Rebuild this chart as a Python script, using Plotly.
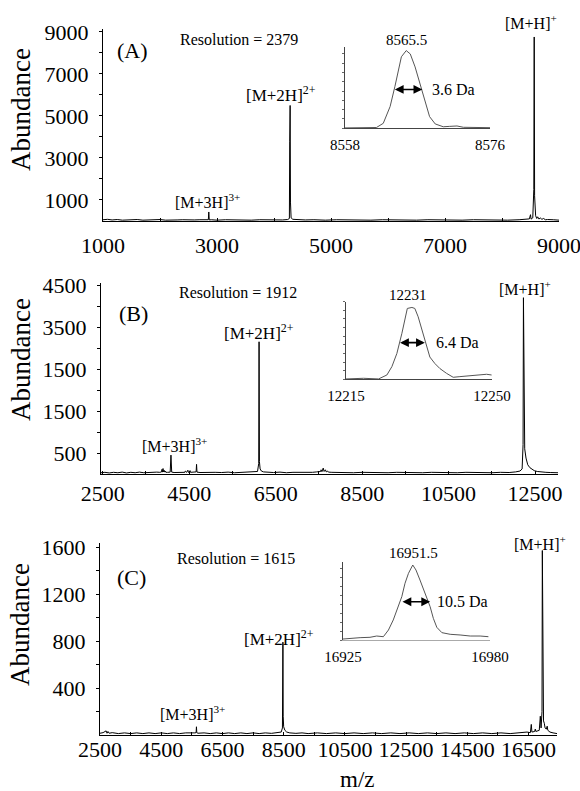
import plotly.graph_objects as go

# ---------------- data ----------------
# Panel A main spectrum (m/z, abundance)
mz_A = [1000, 1080, 1160, 1250, 1340, 1420, 1510, 1600, 1700, 1800, 1900, 2000, 2100, 2200, 2300, 2400,
        2500, 2600, 2700, 2800, 2848, 2856, 2864, 2900, 3000, 3150, 3300, 3450, 3600, 3750, 3900, 4050,
        4150, 4240, 4270, 4276, 4283, 4289, 4300, 4330, 4400, 4550, 4700, 4900, 5100, 5300, 5500, 5700,
        5900, 6100, 6300, 6500, 6700, 6900, 7100, 7300, 7500, 7700, 7900, 8100, 8300, 8400, 8480, 8500,
        8510, 8540, 8558, 8565, 8572, 8590, 8610, 8625, 8650, 8670, 8700, 8730, 8760, 8800, 8850, 8900, 9000]
ab_A = [60, 80, 50, 70, 40, 60, 50, 70, 40, 60, 50, 70, 40, 60, 50, 60,
        40, 50, 60, 40, 60, 430, 50, 60, 40, 60, 50, 60, 40, 60, 50, 60,
        50, 70, 120, 3800, 5500, 900, 150, 80, 60, 50, 60, 40, 60, 50, 60, 40,
        60, 50, 60, 40, 60, 50, 60, 40, 60, 50, 60, 40, 60, 80, 100, 300,
        90, 150, 1500, 8760, 1200, 250, 120, 200, 90, 150, 80, 120, 60, 70, 50, 60, 40]

# Panel B main spectrum
mz_B = [2460, 2550, 2650, 2750, 2850, 2950, 3050, 3150, 3250, 3350, 3450, 3550, 3650, 3750, 3820, 3860,
        3870, 3880, 3895, 3905, 3920, 3930, 3950, 3960, 4000, 4060, 4078, 4095, 4150, 4250, 4350, 4400,
        4410, 4440, 4470, 4480, 4500, 4520, 4530, 4600, 4660, 4670, 4680, 4750, 4850, 4950, 5100, 5250,
        5400, 5550, 5700, 5850, 6000, 6080, 6108, 6116, 6124, 6140, 6170, 6220, 6300, 6450, 6600, 6750,
        6900, 7050, 7200, 7350, 7450, 7540, 7550, 7570, 7600, 7620, 7650, 7670, 7700, 7720, 7800, 7950,
        8100, 8300, 8500, 8700, 8900, 9100, 9300, 9500, 9700, 9900, 10100, 10300, 10500, 10700, 10900,
        11100, 11300, 11500, 11700, 11900, 12050, 12150, 12200, 12222, 12231, 12240, 12260, 12290, 12330,
        12380, 12430, 12480, 12550, 12650, 12750, 12850, 12950, 13030]
ab_B = [30, 40, 25, 40, 30, 45, 25, 40, 30, 45, 30, 40, 35, 45, 40, 50,
        110, 45, 130, 50, 90, 45, 70, 40, 40, 45, 450, 45, 35, 40, 35, 40,
        70, 40, 90, 40, 40, 80, 40, 45, 50, 230, 45, 35, 40, 30, 40, 35,
        45, 30, 40, 35, 45, 60, 250, 3150, 300, 120, 70, 50, 40, 35, 45, 30,
        40, 35, 45, 40, 50, 60, 100, 55, 140, 60, 100, 50, 70, 45, 40, 35,
        45, 30, 40, 35, 45, 30, 40, 35, 45, 30, 40, 35, 45, 30, 40,
        35, 45, 30, 40, 35, 50, 70, 120, 700, 4200, 1500, 600, 380, 220,
        150, 110, 80, 60, 45, 40, 35, 40, 30]

# Panel C main spectrum
mz_C = [2500, 2600, 2700, 2730, 2760, 2800, 2900, 3100, 3300, 3500, 3700, 3900, 4100, 4300, 4500, 4700,
        4900, 5100, 5300, 5500, 5600, 5640, 5651, 5662, 5700, 5900, 6100, 6300, 6500, 6700, 6900, 7100,
        7300, 7500, 7700, 7900, 8100, 8300, 8420, 8460, 8476, 8485, 8500, 8540, 8600, 8700, 8900, 9100,
        9300, 9600, 9900, 10200, 10500, 10800, 11100, 11400, 11700, 12000, 12300, 12600, 12900, 13200,
        13500, 13800, 14100, 14400, 14700, 15000, 15300, 15600, 15900, 16200, 16400, 16450, 16560, 16590,
        16610, 16700, 16720, 16740, 16850, 16885, 16910, 16940, 16951, 16965, 16990, 17015, 17040, 17080,
        17110, 17130, 17200, 17300, 17430]
ab_C = [15, 20, 35, 15, 30, 15, 20, 12, 18, 12, 18, 12, 18, 12, 18, 12,
        18, 12, 18, 14, 18, 20, 70, 20, 15, 18, 12, 18, 12, 18, 12, 18,
        12, 18, 12, 18, 14, 20, 25, 60, 790, 160, 70, 40, 25, 18, 14, 18,
        12, 18, 12, 18, 12, 18, 12, 18, 12, 18, 12, 18, 12, 18,
        12, 18, 12, 18, 12, 18, 12, 18, 12, 20, 22, 25, 20, 90,
        25, 30, 50, 30, 40, 160, 60, 200, 1570, 300, 120, 100, 60, 50,
        75, 40, 25, 18, 12]

# Insets (relative intensity, %)
mz_iA = [8558.0, 8559.5, 8561.0, 8561.9, 8562.75, 8563.6, 8564.2, 8564.6, 8565.0, 8565.6, 8566.1, 8566.7,
         8567.3, 8567.9, 8568.5, 8569.2, 8570.2, 8571.0, 8571.9, 8572.7, 8574.0, 8575.2, 8576.0]
ab_iA = [0.5, 0.8, 0.6, 1.0, 6.4, 28, 54, 75, 92, 100, 95.7, 79,
         58, 34, 15, 5.6, 2.0, 2.5, 3.0, 1.3, 1.0, 1.3, 0.8]

mz_iB = [12215.0, 12219.2, 12222.8, 12224.8, 12226.0, 12227.2, 12228.4, 12229.1, 12229.7, 12230.8, 12231.5,
         12232.3, 12233.1, 12233.9, 12235.1, 12236.3, 12237.5, 12239.1, 12240.7, 12242.3, 12244.7, 12247.1,
         12248.7, 12249.9]
ab_iB = [0.5, 1.4, 0.5, 6, 17.6, 36, 64, 85, 98.6, 100, 98.6,
         87, 71, 52, 31, 22, 15, 8.3, 2.8, 3.7, 4.6, 5.6,
         7.0, 6.0]

mz_iC = [16925.0, 16927.6, 16931.4, 16935.1, 16937.6, 16940.1, 16942.0, 16943.8, 16945.7, 16947.0, 16948.2,
         16949.5, 16951.1, 16952.3, 16953.8, 16955.7, 16957.6, 16958.8, 16960.1, 16962.0, 16965.1, 16968.8,
         16972.6, 16976.3, 16979.4]
ab_iC = [1.3, 2.2, 3.1, 3.6, 5.3, 4.4, 13.3, 26.7, 44.4, 57.8, 75.6,
         88.9, 100, 93.3, 80, 62.2, 44.4, 28.9, 16.9, 9.8, 7.6, 6.7,
         5.3, 5.3, 4.4]

# tick values / labels (labelled major ticks + unlabelled minor ticks)
xticks_A = [1000, 3000, 5000, 7000, 9000]
xlabels_A = ["1000", "3000", "5000", "7000", "9000"]
xminor_A = [2000, 4000, 6000, 8000]
yticks_A = [1000, 3000, 5000, 7000, 9000]
ylabels_A = ["1000", "3000", "5000", "7000", "9000"]
yminor_A = [2000, 4000, 6000, 8000]

xticks_B = [2500, 4500, 6500, 8500, 10500, 12500]
xlabels_B = ["2500", "4500", "6500", "8500", "10500", "12500"]
xminor_B = [3500, 5500, 7500, 9500, 11500]
yticks_B = [500, 1500, 2500, 3500, 4500]
ylabels_B = ["500", "1500", "1500", "3500", "4500"]
yminor_B = [1000, 2000, 3000, 4000]

xticks_C = [2500, 4500, 6500, 8500, 10500, 12500, 14500, 16500]
xlabels_C = ["2500", "4500", "6500", "8500", "10500", "12500", "14500", "16500"]
xminor_C = [3500, 5500, 7500, 9500, 11500, 13500, 15500]
yticks_C = [400, 800, 1200, 1600]
ylabels_C = ["400", "800", "1200", "1600"]
yminor_C = [200, 600, 1000, 1400]

inset_ticks_A = [8558, 8576]
inset_ticks_B = [12215, 12250]
inset_ticks_C = [16925, 16980]

peak_top_A, peak_top_B, peak_top_C = "8565.5", "12231", "16951.5"
fwhm_A, fwhm_B, fwhm_C = "3.6 Da", "6.4 Da", "10.5 Da"
res_A, res_B, res_C = "Resolution = 2379", "Resolution = 1912", "Resolution = 1615"

# ---------------- figure ----------------
W, H = 580, 791
FONT = "Liberation Serif, Times New Roman, Times, serif"

def px(x):
    return x / W

def py(y):
    return 1 - y / H

fig = go.Figure()
line_main = dict(color="black", width=1)
line_inset = dict(color="#555555", width=1)
fig.add_trace(go.Scatter(x=mz_A, y=ab_A, mode="lines", line=line_main, xaxis="x", yaxis="y"))
fig.add_trace(go.Scatter(x=mz_B, y=ab_B, mode="lines", line=line_main, xaxis="x2", yaxis="y2"))
fig.add_trace(go.Scatter(x=mz_C, y=ab_C, mode="lines", line=line_main, xaxis="x3", yaxis="y3"))
fig.add_trace(go.Scatter(x=mz_iA, y=ab_iA, mode="lines", line=line_inset, xaxis="x4", yaxis="y4"))
fig.add_trace(go.Scatter(x=mz_iB, y=ab_iB, mode="lines", line=line_inset, xaxis="x5", yaxis="y5"))
fig.add_trace(go.Scatter(x=mz_iC, y=ab_iC, mode="lines", line=line_inset, xaxis="x6", yaxis="y6"))

def main_x(dom, rng, anchor, tv, tt, mv, standoff):
    return dict(domain=dom, range=rng, anchor=anchor, showline=True, linecolor="black", linewidth=1,
                ticks="inside", ticklen=3, tickcolor="black", tickvals=tv, ticktext=tt, tickangle=0,
                minor=dict(tickvals=mv, ticks="inside", ticklen=3, tickcolor="black", showgrid=False),
                tickfont=dict(size=22, family=FONT, color="black"), showgrid=False, zeroline=False,
                ticklabelstandoff=standoff, automargin=False, ticklabeloverflow="allow")

def main_y(dom, rng, anchor, tv, tt, mv):
    return dict(domain=dom, range=rng, anchor=anchor, showline=True, linecolor="black", linewidth=1,
                ticks="outside", ticklen=3, tickcolor="black", tickvals=tv, ticktext=tt,
                minor=dict(tickvals=mv, ticks="outside", ticklen=3, tickcolor="black", showgrid=False),
                tickfont=dict(size=22, family=FONT, color="black"), showgrid=False, zeroline=False,
                ticklabelstandoff=6, automargin=False, ticklabeloverflow="allow")

def inset_x(dom, rng, anchor, tv, color):
    return dict(domain=dom, range=rng, anchor=anchor, showline=True, linecolor=color, linewidth=1,
                ticks="", tickvals=tv, ticktext=[str(v) for v in tv], tickangle=0,
                tickfont=dict(size=15, family=FONT, color="black"), showgrid=False, zeroline=False,
                ticklabelstandoff=3, automargin=False, ticklabeloverflow="allow")

def inset_y(dom, rng, anchor):
    return dict(domain=dom, range=rng, anchor=anchor, showline=True, linecolor="#444444", linewidth=1,
                ticks="outside", ticklen=2, tickcolor="#666666", dtick=12, showticklabels=False,
                showgrid=False, zeroline=False, automargin=False)

fig.update_layout(
    width=W, height=H, margin=dict(l=0, r=0, t=0, b=0, pad=0), autosize=False,
    paper_bgcolor="white", plot_bgcolor="rgba(0,0,0,0)", showlegend=False, hovermode=False,
    font=dict(family=FONT, color="black"),
    xaxis=main_x([px(103), px(559)], [1000, 9000], "y", xticks_A, xlabels_A, xminor_A, 5),
    yaxis=main_y([py(221), py(29)], [0, 9140], "x", yticks_A, ylabels_A, yminor_A),
    xaxis2=main_x([px(101), px(558)], [2460, 13030], "y2", xticks_B, xlabels_B, xminor_B, 0),
    yaxis2=main_y([py(474), py(283)], [0, 4550], "x2", yticks_B, ylabels_B, yminor_B),
    xaxis3=main_x([px(100), px(557)], [2500, 17430], "y3", xticks_C, xlabels_C, xminor_C, -5),
    yaxis3=main_y([py(735), py(543)], [0, 1634], "x3", yticks_C, ylabels_C, yminor_C),
    xaxis4=inset_x([px(345), px(490)], [8558, 8576], "y4", inset_ticks_A, "#444444"),
    yaxis4=inset_y([py(128.3), py(46.7)], [0, 105], "x4"),
    xaxis5=inset_x([px(346), px(492)], [12215, 12250], "y5", inset_ticks_B, "#444444"),
    yaxis5=inset_y([py(379.3), py(301.7)], [0, 108], "x5"),
    xaxis6=inset_x([px(343), px(490)], [16925, 16980], "y6", inset_ticks_C, "#aaaaaa"),
    yaxis6=inset_y([py(640), py(561.7)], [0, 104.4], "x6"),
)

ann = []

def txt(text, x, y, size, xanchor="left", yanchor="middle", angle=0):
    ann.append(dict(text=text, x=px(x), y=py(y), xref="paper", yref="paper", showarrow=False,
                    xanchor=xanchor, yanchor=yanchor, textangle=angle,
                    font=dict(size=size, family=FONT, color="black")))

# Panel A
txt("(A)", 132, 51, 22, "center")
txt(res_A, 178, 40, 16)
txt("[M+2H]<sup>2+</sup>", 244, 94, 17)
txt("[M+3H]<sup>3+</sup>", 173, 201, 16)
txt("[M+H]<sup>+</sup>", 503, 22, 16)
txt(peak_top_A, 406, 40, 15, "center")
# Panel B
txt("(B)", 133, 313, 22, "center")
txt(res_B, 177, 292, 16)
txt("[M+2H]<sup>2+</sup>", 222, 332, 17)
txt("[M+3H]<sup>3+</sup>", 140, 445, 16)
txt("[M+H]<sup>+</sup>", 497, 288, 16)
txt(peak_top_B, 408, 295, 15, "center")
# Panel C
txt("(C)", 131, 577, 22, "center")
txt(res_C, 175, 558, 16)
txt("[M+2H]<sup>2+</sup>", 242, 638, 17)
txt("[M+3H]<sup>3+</sup>", 158, 713, 16)
txt("[M+H]<sup>+</sup>", 512, 543, 16)
txt(peak_top_C, 413, 553, 15, "center")

# axis titles
txt("Abundance", 21, 110, 27, "center", "middle", -90)
txt("Abundance", 21, 360, 27, "center", "middle", -90)
txt("Abundance", 20, 625, 27, "center", "middle", -90)
txt("m/z", 357, 779, 23, "center")

# FWHM arrows and labels (data coordinates of insets)
def fwhm(xa, ya, x0, x1, yv, label, lx):
    ann.append(dict(x=x1, y=yv, ax=x0, ay=yv, xref=xa, yref=ya, axref=xa, ayref=ya, text="",
                    showarrow=True, arrowhead=2, startarrowhead=2, arrowside="end+start",
                    arrowsize=1.1, startarrowsize=1.1, arrowwidth=1.6, arrowcolor="black"))
    ann.append(dict(x=lx, y=yv, xref=xa, yref=ya, text=label, showarrow=False, xanchor="left",
                    yanchor="middle", font=dict(size=16, family=FONT, color="black")))

fwhm("x4", "y4", 8564.0, 8567.6, 50, fwhm_A, 8568.6)
fwhm("x5", "y5", 12227.6, 12233.9, 51, fwhm_B, 12236.2)
fwhm("x6", "y6", 16946.7, 16957.6, 51, fwhm_C, 16959.3)

fig.update_layout(annotations=ann)
fig.write_html("out.html", config={"displayModeBar": False},
               post_script="document.body.style.margin='0';")
